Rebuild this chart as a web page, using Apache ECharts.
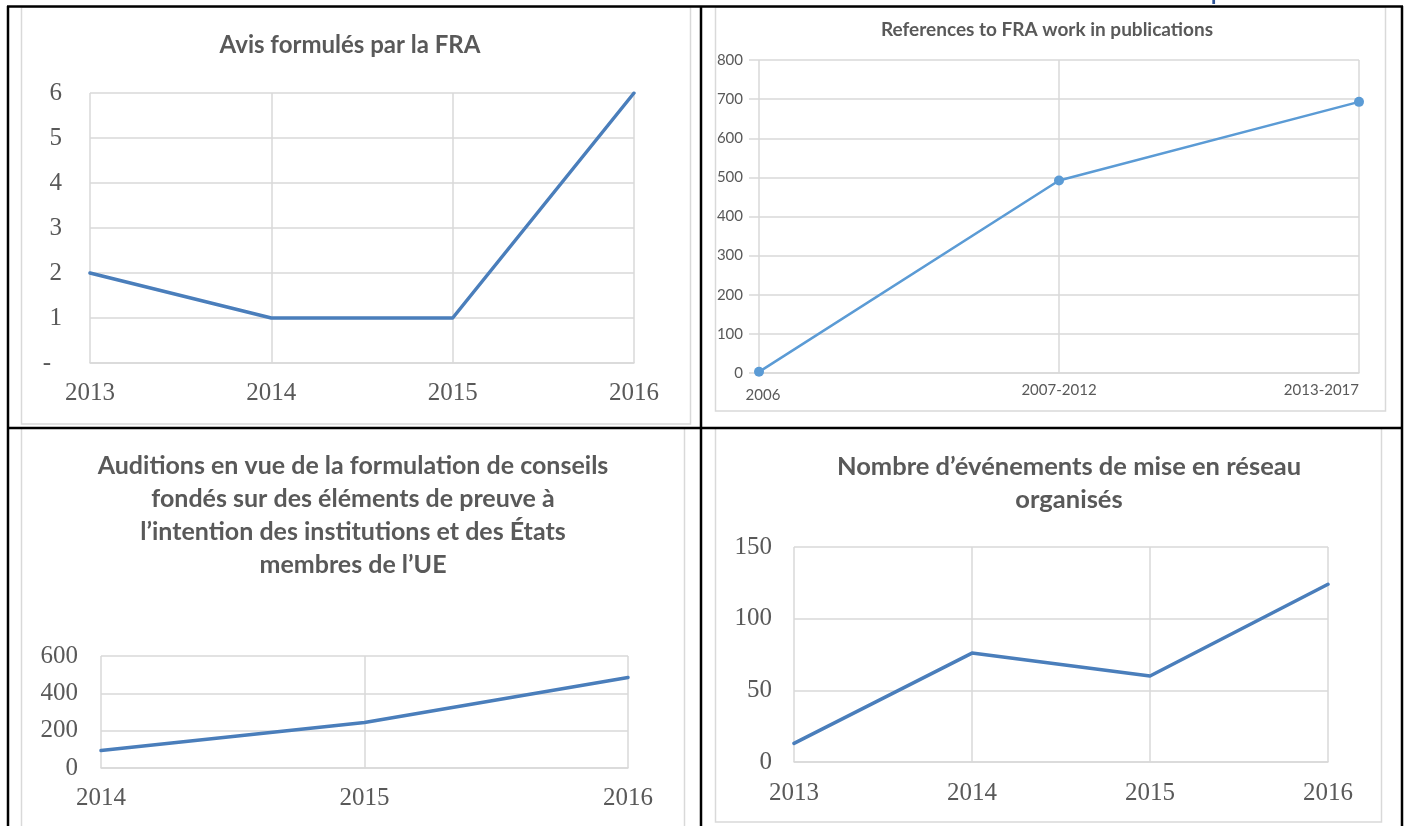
<!DOCTYPE html>
<html>
<head>
<meta charset="utf-8">
<title>FRA</title>
<script src="https://cdn.jsdelivr.net/npm/echarts@6/dist/echarts.min.js"></script>
<style>
	html, body { margin: 0; padding: 0; background: #fff; }
	#main { width: 1407px; height: 826px; }
</style>
</head>
<body>
<div id="main"></div>
<script>
// Avis formulés par la FRA
var avisYears = ['2013', '2014', '2015', '2016'];
var avisValues = [2, 1, 1, 6];
var avisTicks = [0, 1, 2, 3, 4, 5, 6];

// References to FRA work in publications
var refPeriods = ['2006', '2007-2012', '2013-2017'];
var refValues = [3, 492, 693];
var refTicks = [0, 100, 200, 300, 400, 500, 600, 700, 800];

// Auditions
var auditionYears = ['2014', '2015', '2016'];
var auditionValues = [94, 244, 485];
var auditionTicks = [0, 200, 400, 600];

// Événements de mise en réseau
var eventYears = ['2013', '2014', '2015', '2016'];
var eventValues = [13, 76, 60, 124];
var eventTicks = [0, 50, 100, 150];

var textColor = '#595959';
var gridColor = '#d9d9d9';
var darkBlue = '#4a7ebb';
var serif = '"Liberation Serif", "DejaVu Serif", serif';
var sans = 'Lato, "Open Sans", sans-serif';

var chart = echarts.init(document.getElementById('main'));

function categoryAxis(gridIndex, data, margin, label){
	return {
		gridIndex : gridIndex,
		type : 'category',
		data : data,
		boundaryGap : false,
		axisLine : { show : true, lineStyle : { color : gridColor, width : 1.5 } },
		axisTick : { show : false },
		splitLine : { show : true, lineStyle : { color : gridColor, width : 1.5 } },
		axisLabel : Object.assign({
			interval : 0,
			margin : margin,
			color : textColor,
			fontFamily : serif,
			fontSize : 25
		}, label || {})
	};
}

function valueAxis(gridIndex, ticks, margin, label, tick){
	return {
		gridIndex : gridIndex,
		type : 'value',
		min : ticks[0],
		max : ticks[ticks.length - 1],
		interval : ticks[1] - ticks[0],
		axisLine : { show : false },
		axisTick : tick || { show : false },
		splitLine : { show : true, lineStyle : { color : gridColor, width : 1.5 } },
		axisLabel : Object.assign({
			margin : margin,
			color : textColor,
			fontFamily : serif,
			fontSize : 25
		}, label || {})
	};
}

function frame(x, y, w, h){
	return {
		type : 'rect',
		shape : { x : x, y : y, width : w, height : h },
		style : { fill : 'none', stroke : gridColor, lineWidth : 1.5 },
		silent : true
	};
}

function blackLine(x1, y1, x2, y2){
	return {
		type : 'line',
		shape : { x1 : x1, y1 : y1, x2 : x2, y2 : y2 },
		style : { stroke : '#000', lineWidth : 2.5 },
		z : 10,
		silent : true
	};
}

function title(text, x, y, size, lineHeight){
	return {
		type : 'text',
		style : {
			text : text,
			x : x,
			y : y,
			align : 'center',
			verticalAlign : 'middle',
			font : 'bold ' + size + 'px ' + sans,
			lineHeight : lineHeight || size,
			fill : textColor
		},
		silent : true
	};
}

var option = {
	animation : false,
	backgroundColor : '#fff',
	grid : [
		{ left : 90, top : 93, width : 544, height : 270, outerBoundsMode : 'none' },
		{ left : 759, top : 60, width : 600, height : 313, outerBoundsMode : 'none' },
		{ left : 101, top : 656, width : 527, height : 112, outerBoundsMode : 'none' },
		{ left : 794, top : 547, width : 534, height : 215, outerBoundsMode : 'none' }
	],
	xAxis : [
		categoryAxis(0, avisYears, 18),
		categoryAxis(1, refPeriods, 10, {
			fontFamily : sans,
			fontSize : 15,
			alignMaxLabel : 'right',
			formatter : function(value, index){
				return index === 0 ? '{first|' + value + '}' : value;
			},
			rich : {
				first : { fontFamily : sans, fontSize : 15, color : textColor, padding : [5, 0, 0, 8] }
			}
		}),
		categoryAxis(2, auditionYears, 18),
		categoryAxis(3, eventYears, 19)
	],
	yAxis : [
		valueAxis(0, avisTicks, 28, {
			formatter : function(value){
				return value === 0 ? '{dash|-}' : value;
			},
			rich : {
				dash : { fontFamily : serif, fontSize : 25, color : textColor, padding : [0, 11, 0, 0] }
			}
		}),
		valueAxis(1, refTicks, 16, { fontFamily : sans, fontSize : 15 },
			{ show : true, length : 10, lineStyle : { color : gridColor, width : 1.5 } }),
		valueAxis(2, auditionTicks, 23),
		valueAxis(3, eventTicks, 22)
	],
	series : [
		{
			type : 'line',
			xAxisIndex : 0,
			yAxisIndex : 0,
			data : avisValues,
			symbol : 'none',
			lineStyle : { color : darkBlue, width : 3.5, join : 'round', cap : 'round' }
		},
		{
			type : 'line',
			xAxisIndex : 1,
			yAxisIndex : 1,
			data : refValues,
			symbol : 'circle',
			symbolSize : 10,
			itemStyle : { color : '#5b9bd5' },
			lineStyle : { color : '#5b9bd5', width : 2.5, join : 'round' }
		},
		{
			type : 'line',
			xAxisIndex : 2,
			yAxisIndex : 2,
			data : auditionValues,
			symbol : 'none',
			lineStyle : { color : darkBlue, width : 3.5, join : 'round', cap : 'round' }
		},
		{
			type : 'line',
			xAxisIndex : 3,
			yAxisIndex : 3,
			data : eventValues,
			symbol : 'none',
			lineStyle : { color : darkBlue, width : 3.5, join : 'round', cap : 'round' }
		}
	],
	graphic : [
		// cadres des graphiques
		frame(21.5, 7, 669, 417),
		frame(715.5, 7, 670, 404),
		frame(21.5, 428, 663, 420),
		frame(715.5, 428, 666, 394),
		// titres
		title('Avis formulés par la FRA', 350, 45, 24),
		title('References to FRA work in publications', 1047, 30, 19),
		title('Auditions en vue de la formulation de conseils\nfondés sur des éléments de preuve à\nl’intention des institutions et des États\nmembres de l’UE', 353, 515, 25, 33),
		title('Nombre d’événements de mise en réseau\norganisés', 1069, 483, 25.5, 33),
		// bout de texte coupé en haut
		{
			type : 'text',
			style : { text : 'p', x : 1211, y : 4, verticalAlign : 'bottom', font : 'bold 22px ' + sans, fill : '#2f5597' },
			silent : true
		},
		// bordures du tableau
		blackLine(7, 6.5, 1403, 6.5),
		blackLine(7, 428, 1403, 428),
		blackLine(8, 6, 8, 826),
		blackLine(701, 6, 701, 826),
		blackLine(1402, 6, 1402, 826)
	]
};

chart.setOption(option);
</script>
</body>
</html>
